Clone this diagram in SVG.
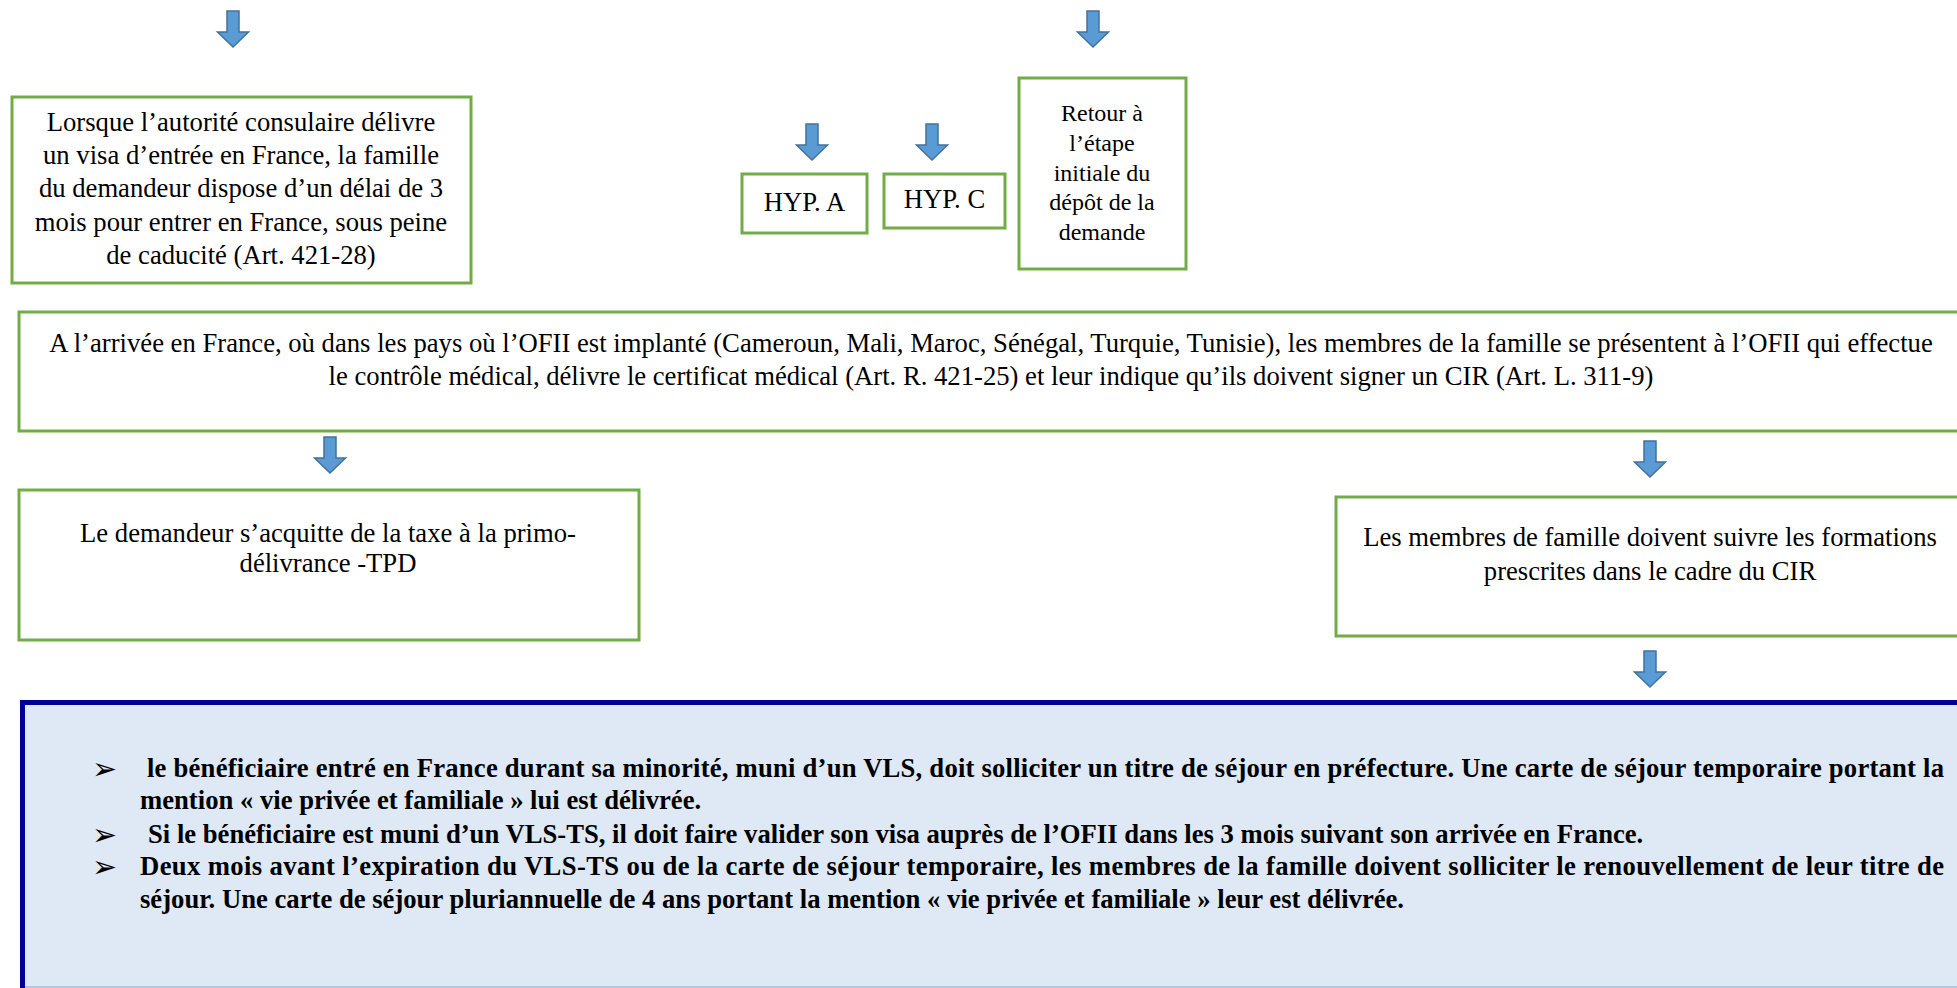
<svg xmlns="http://www.w3.org/2000/svg" width="1957" height="988" viewBox="0 0 1957 988">
<style>
.box{fill:#FFFFFF;stroke:#70AD47;stroke-width:3}
.t{font-family:"Liberation Serif","Times New Roman",serif;font-size:26.67px;fill:#000000;text-anchor:middle}
.t24{font-size:24px}
.b{font-family:"Liberation Serif","Times New Roman",serif;font-size:26.67px;font-weight:bold;fill:#000000}
.bul{font-family:"DejaVu Sans",sans-serif;font-size:30px;fill:#000000}
.arr{fill:#5B9BD5;stroke:#41719C;stroke-width:1.5}
</style>
<defs>
<path id="arrow" class="arr" d="M-6,0 L6,0 L6,21 L15.5,21 L0,36 L-15.5,21 L-6,21 Z"/>
</defs>
<rect width="1957" height="988" fill="#FFFFFF"/>

<g id="connectors">
<use href="#arrow" x="233" y="11"/>
<use href="#arrow" x="1093" y="11"/>
<use href="#arrow" x="812" y="124"/>
<use href="#arrow" x="932" y="124"/>
<use href="#arrow" x="330" y="437"/>
<use href="#arrow" x="1650" y="441"/>
<use href="#arrow" x="1650" y="651"/>
</g>

<g id="node-visa">
<rect class="box" x="12" y="97" width="459" height="186"/>
<text class="t" x="241" y="130.5">Lorsque l’autorité consulaire délivre</text>
<text class="t" x="241" y="164">un visa d’entrée en France, la famille</text>
<text class="t" x="241" y="197">du demandeur dispose d’un délai de 3</text>
<text class="t" x="241" y="230.5">mois pour entrer en France, sous peine</text>
<text class="t" x="241" y="263.5">de caducité (Art. 421-28)</text>
</g>

<g id="node-hypa">
<rect class="box" x="742" y="174" width="125" height="59"/>
<text class="t" x="804.5" y="211">HYP. A</text>
</g>

<g id="node-hypc">
<rect class="box" x="884" y="174" width="121" height="54"/>
<text class="t" x="944.5" y="208">HYP. C</text>
</g>

<g id="node-retour">
<rect class="box" x="1019" y="78" width="167" height="191"/>
<text class="t t24" x="1102" y="121">Retour à</text>
<text class="t t24" x="1102" y="151">l’étape</text>
<text class="t t24" x="1102" y="181">initiale du</text>
<text class="t t24" x="1102" y="210">dépôt de la</text>
<text class="t t24" x="1102" y="240">demande</text>
</g>

<g id="node-arrivee">
<rect class="box" x="19" y="312" width="1945" height="119"/>
<text class="t" x="991" y="352">A l’arrivée en France, où dans les pays où l’OFII est implanté (Cameroun, Mali, Maroc, Sénégal, Turquie, Tunisie), les membres de la famille se présentent à l’OFII qui effectue</text>
<text class="t" x="991" y="385">le contrôle médical, délivre le certificat médical (Art. R. 421-25) et leur indique qu’ils doivent signer un CIR (Art. L. 311-9)</text>
</g>

<g id="node-tpd">
<rect class="box" x="19" y="490" width="620" height="150"/>
<text class="t" x="328" y="542">Le demandeur s’acquitte de la taxe à la primo-</text>
<text class="t" x="328" y="572">délivrance -TPD</text>
</g>

<g id="node-cir">
<rect class="box" x="1336" y="497" width="629" height="139"/>
<text class="t" x="1650" y="546">Les membres de famille doivent suivre les formations</text>
<text class="t" x="1650" y="580">prescrites dans le cadre du CIR</text>
</g>

<g id="node-final">
<rect x="22.5" y="702.5" width="1950" height="300" fill="#DEE9F5" stroke="#000099" stroke-width="5"/>
<line x1="25" y1="987" x2="1957" y2="987" stroke="#B4C7E7" stroke-width="2"/>
<text class="bul" x="92" y="779">➢</text>
<text class="bul" x="92" y="845">➢</text>
<text class="bul" x="92" y="877">➢</text>
<text class="b" x="147" y="777" textLength="1797" lengthAdjust="spacing">le bénéficiaire entré en France durant sa minorité, muni d’un VLS, doit solliciter un titre de séjour en préfecture. Une carte de séjour temporaire portant la</text>
<text class="b" x="140" y="809">mention « vie privée et familiale » lui est délivrée.</text>
<text class="b" x="148" y="843">Si le bénéficiaire est muni d’un VLS-TS, il doit faire valider son visa auprès de l’OFII dans les 3 mois suivant son arrivée en France.</text>
<text class="b" x="140" y="875" textLength="1804" lengthAdjust="spacing">Deux mois avant l’expiration du VLS-TS ou de la carte de séjour temporaire, les membres de la famille doivent solliciter le renouvellement de leur titre de</text>
<text class="b" x="140" y="908">séjour. Une carte de séjour pluriannuelle de 4 ans portant la mention « vie privée et familiale » leur est délivrée.</text>
</g>
</svg>
